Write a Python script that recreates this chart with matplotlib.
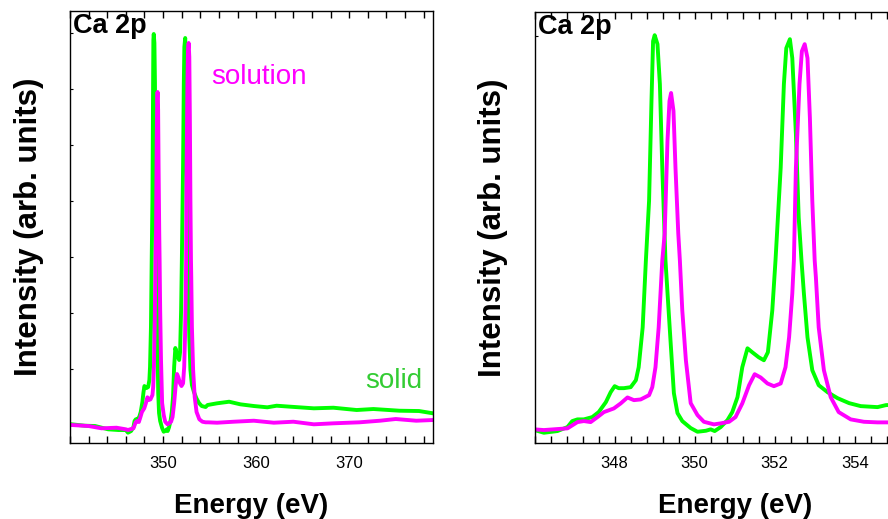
import matplotlib
matplotlib.use("Agg")
import matplotlib.pyplot as plt
from matplotlib.ticker import MultipleLocator, FixedLocator

plt.rcParams['font.family'] = ['Liberation Sans', 'DejaVu Sans']

# Ca 2p spectra, energy (eV) vs intensity (arb. units)
solid_energy = [340.2, 341.6, 342.7, 344.1, 345.2, 346.0, 346.23, 346.57, 346.82, 346.94,
                347.07, 347.23, 347.44, 347.6, 347.78, 347.9, 348.0, 348.1, 348.23, 348.4,
                348.53, 348.6, 348.7, 348.78, 348.86, 348.92, 348.96, 349.0, 349.07, 349.13,
                349.19, 349.27, 349.4, 349.48, 349.57, 349.69, 349.9, 350.07, 350.28, 350.4,
                350.5, 350.65, 350.82, 350.94, 351.07, 351.19, 351.32, 351.44, 351.6, 351.73,
                351.83, 351.94, 352.02, 352.15, 352.23, 352.29, 352.38, 352.44, 352.53, 352.6,
                352.67, 352.73, 352.82, 352.94, 353.1, 353.32, 353.57, 353.86, 354.15, 354.57,
                354.78, 355.8, 357.1, 358.3, 359.75, 361.2, 362.2, 363.7, 366.2, 368.3,
                370.8, 372.6, 375.4, 377.5, 379.0]
solid_intensity = [18.7, 17.3, 17.0, 13.7, 13.0, 13.0, 10.3, 12.0, 16.0, 22.0,
                   23.7, 23.7, 26.0, 31.0, 41.0, 51.0, 57.0, 55.0, 55.0, 56.0,
                   63.0, 76.0, 116.0, 183.0, 243.0, 343.0, 403.0, 409.0, 400.0, 360.0,
                   276.0, 183.0, 100.0, 50.0, 30.0, 22.0, 15.0, 11.3, 12.3, 13.7,
                   12.0, 16.0, 23.0, 31.0, 46.0, 76.0, 95.0, 91.0, 86.0, 83.0,
                   91.0, 133.0, 183.0, 276.0, 360.0, 396.0, 405.0, 386.0, 310.0, 226.0,
                   183.0, 150.0, 106.0, 73.0, 58.0, 51.0, 45.0, 40.0, 37.0, 36.0,
                   38.0, 39.7, 41.3, 38.7, 37.0, 35.7, 37.3, 36.3, 34.7, 35.3,
                   33.0, 34.0, 32.3, 32.0, 29.7]

solution_energy = [340.2, 342.0, 343.4, 345.0, 346.0, 346.23, 346.57, 346.82, 347.07, 347.23,
                   347.4, 347.57, 347.73, 347.98, 348.15, 348.32, 348.48, 348.65, 348.86, 348.94,
                   349.02, 349.1, 349.19, 349.25, 349.32, 349.37, 349.41, 349.47, 349.52, 349.59,
                   349.63, 349.69, 349.78, 349.9, 350.07, 350.23, 350.48, 350.65, 350.86, 351.02,
                   351.19, 351.36, 351.5, 351.65, 351.82, 351.98, 352.15, 352.27, 352.36, 352.44,
                   352.48, 352.53, 352.62, 352.68, 352.75, 352.82, 352.88, 352.94, 353.0, 353.03,
                   353.1, 353.23, 353.4, 353.6, 353.9, 354.23, 354.57, 354.82, 355.8, 357.6,
                   359.75, 361.9, 364.0, 366.2, 368.3, 371.1, 373.3, 375.0, 377.2, 379.0]
solution_intensity = [18.0, 17.0, 14.7, 15.3, 13.7, 13.0, 14.0, 14.7, 21.0, 22.0,
                      21.0, 26.0, 31.0, 34.7, 39.7, 45.7, 43.0, 43.7, 48.0, 56.0,
                      76.0, 116.0, 183.0, 210.0, 303.0, 343.0, 351.0, 333.0, 276.0, 210.0,
                      183.0, 133.0, 83.0, 40.0, 28.0, 21.3, 18.7, 19.7, 21.3, 26.0,
                      39.7, 58.0, 69.0, 65.7, 59.7, 57.0, 59.7, 76.0, 106.0, 150.0,
                      183.0, 276.0, 360.0, 393.0, 400.0, 386.0, 326.0, 243.0, 183.0, 166.0,
                      116.0, 73.0, 46.0, 31.0, 23.7, 21.3, 20.7, 20.7, 20.3, 21.3,
                      22.3, 20.3, 21.3, 18.7, 19.7, 20.7, 22.3, 24.0, 22.3, 23.0]

green = '#00ff00'
magenta = '#ff00ff'

fig = plt.figure(figsize=(8.88, 5.19), dpi=100)

ax1 = fig.add_axes([0.0788, 0.1464, 0.4088, 0.8324])
ax2 = fig.add_axes([0.6021, 0.1464, 0.4505, 0.8300])

for ax in (ax1, ax2):
    ax.plot(solid_energy, solid_intensity, color=green, lw=2.8, solid_joinstyle='round')
    ax.plot(solution_energy, solution_intensity, color=magenta, lw=2.8, solid_joinstyle='round')
    ax.set_ylim(0, 432)
    ax.tick_params(axis='x', which='both', direction='in', top=True, labelsize=12, pad=9)
    ax.tick_params(axis='x', which='both', length=5, width=1)
    ax.tick_params(axis='y', which='both', direction='in', labelleft=False, length=2, width=0.8)
    ax.set_xlabel("Energy (eV)", fontsize=20, fontweight='bold', labelpad=16)
    ax.set_ylabel("Intensity (arb. units)", fontsize=22.5, fontweight='bold', labelpad=19)
    ax.text(0.008, 0.995, "Ca 2p", transform=ax.transAxes, fontsize=19.5,
            fontweight='bold', ha='left', va='top')
    for s in ax.spines.values():
        s.set_linewidth(1.0)

# panel izquierdo: espectro completo
ax1.set_xlim(340, 379)
ax1.xaxis.set_major_locator(FixedLocator([350, 360, 370]))
ax1.xaxis.set_minor_locator(MultipleLocator(2))
ax1.yaxis.set_major_locator(MultipleLocator(56, offset=18))
ax1.text(355.2, 366, "solution", color=magenta, fontsize=20, ha='left', va='center')
ax1.text(377.9, 62, "solid", color='#33cc33', fontsize=20, ha='right', va='center')

# panel derecho: zoom en los picos
ax2.set_xlim(346, 356)
ax2.xaxis.set_major_locator(FixedLocator([348, 350, 352, 354]))
ax2.xaxis.set_minor_locator(MultipleLocator(0.4))
ax2.yaxis.set_major_locator(FixedLocator([408]))

fig.savefig("out.png", dpi=100)
